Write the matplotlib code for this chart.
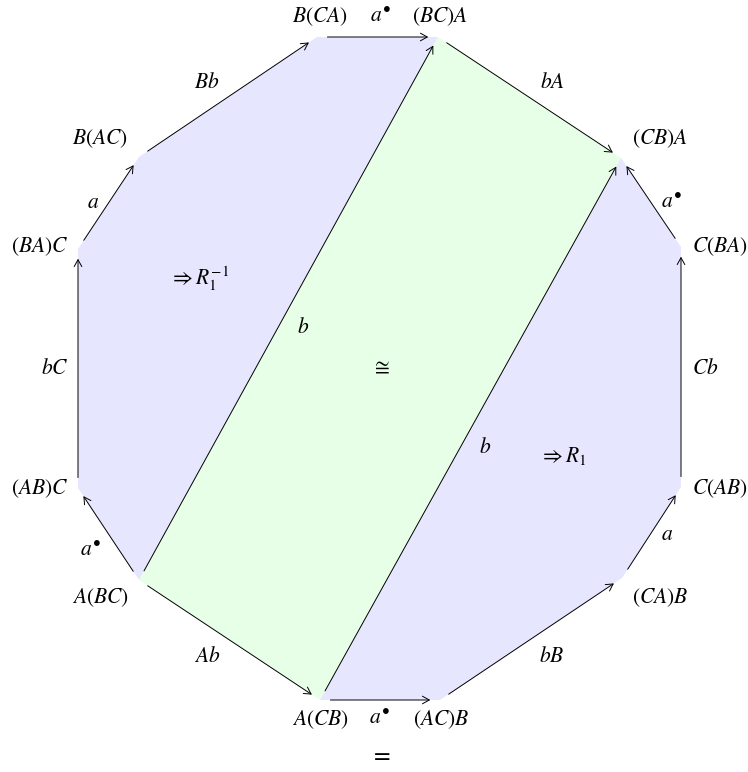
import matplotlib
matplotlib.use("Agg")
import matplotlib.pyplot as plt
from matplotlib.patches import Polygon, FancyArrowPatch, ArrowStyle

plt.rcParams['mathtext.fontset'] = 'stix'
plt.rcParams['font.family'] = ['STIXGeneral', 'DejaVu Serif']

# Knoten (Objekte) des Diagramms, im Uhrzeigersinn ab oben links
nodes = ['B(CA)', '(BC)A', '(CB)A', 'C(BA)', 'C(AB)', '(CA)B',
         '(AC)B', 'A(CB)', 'A(BC)', '(AB)C', '(BA)C', 'B(AC)']

# Pfeile: (von, nach, Beschriftung)
edges = [
    ('B(CA)', '(BC)A', 'a^{•}'),
    ('(BC)A', '(CB)A', 'bA'),
    ('C(BA)', '(CB)A', 'a^{•}'),
    ('C(AB)', 'C(BA)', 'Cb'),
    ('(CA)B', 'C(AB)', 'a'),
    ('(AC)B', '(CA)B', 'bB'),
    ('A(CB)', '(AC)B', 'a^{•}'),
    ('A(BC)', 'A(CB)', 'Ab'),
    ('A(BC)', '(AB)C', 'a^{•}'),
    ('(AB)C', '(BA)C', 'bC'),
    ('(BA)C', 'B(AC)', 'a'),
    ('B(AC)', 'B(CA)', 'Bb'),
    ('A(BC)', '(BC)A', 'b'),
    ('A(CB)', '(CB)A', 'b'),
]

# Flaechen (2-Zellen) mit Beschriftung
faces = [
    (['A(BC)', '(AB)C', '(BA)C', 'B(AC)', 'B(CA)', '(BC)A'], r'\Rightarrow R_1^{-1}', 'blue'),
    (['A(BC)', '(BC)A', '(CB)A', 'A(CB)'], r'\cong', 'green'),
    (['A(CB)', '(AC)B', '(CA)B', 'C(AB)', 'C(BA)', '(CB)A'], r'\Rightarrow R_1', 'blue'),
]

# --- Layout (Pixel, y nach unten) ---
node_pos = {
    'B(CA)': (317, 37), '(BC)A': (438, 37), '(CB)A': (621, 158),
    'C(BA)': (681, 247), 'C(AB)': (681, 487), '(CA)B': (622, 578),
    '(AC)B': (440, 700), 'A(CB)': (320, 700), 'A(BC)': (139, 580),
    '(AB)C': (78, 488), '(BA)C': (78, 249), 'B(AC)': (139, 157),
}
node_label_pos = {
    'B(CA)': (320, 17), '(BC)A': (440, 17), '(CB)A': (660, 139),
    'C(BA)': (720, 247), 'C(AB)': (720, 489), '(CA)B': (660, 598),
    '(AC)B': (441, 720), 'A(CB)': (320, 720), 'A(BC)': (100, 598),
    '(AB)C': (40, 489), '(BA)C': (40, 247), 'B(AC)': (100, 139),
}
edge_label_pos = [(380, 16), (552, 83), (671, 202), (705, 369), (667, 535),
                  (552, 657), (379, 718), (207, 657), (90, 550), (55, 369),
                  (93, 203), (207, 83), (303, 328), (485, 448)]
face_label_pos = [(199, 279), (380, 368), (563, 456)]
fills = {'blue': '#e6e6ff', 'green': '#e6ffe6'}
fs = 15.5

fig = plt.figure(figsize=(7.48, 7.72), dpi=100)
ax = fig.add_axes([0, 0, 1, 1])
ax.set_xlim(0, 748)
ax.set_ylim(772, 0)
ax.axis('off')

for (verts, lab, col), (lx, ly) in zip(faces, face_label_pos):
    ax.add_patch(Polygon([node_pos[v] for v in verts], closed=True,
                         facecolor=fills[col], edgecolor='none', zorder=1))
    ax.text(lx, ly, '$' + lab + '$', fontsize=fs, ha='center', va='center', zorder=4)

style = ArrowStyle('->', head_length=0.45, head_width=0.25)
for (a, b, lab), (lx, ly) in zip(edges, edge_label_pos):
    arr = FancyArrowPatch(node_pos[a], node_pos[b], arrowstyle=style,
                          mutation_scale=11, shrinkA=7.5, shrinkB=7,
                          lw=0.7, color='black', zorder=3)
    ax.add_patch(arr)
    ax.text(lx, ly, '$' + lab + '$', fontsize=fs, ha='center', va='center', zorder=4)

for n in nodes:
    x, y = node_label_pos[n]
    ax.text(x, y, '$' + n + '$', fontsize=fs, ha='center', va='center', zorder=4)

ax.text(380, 755, '$=$', fontsize=fs + 2, ha='center', va='center')

fig.savefig('out.png', dpi=100)
